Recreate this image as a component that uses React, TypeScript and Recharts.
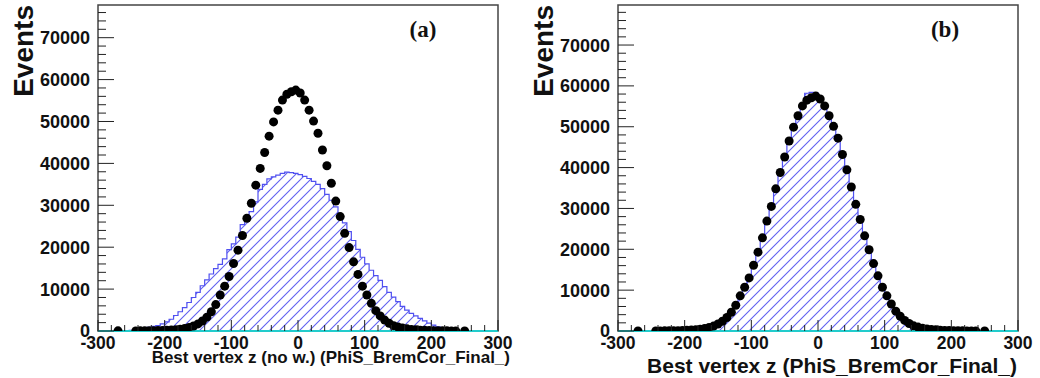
import {
  ComposedChart,
  Area,
  Line,
  XAxis,
  YAxis,
  ReferenceLine,
  ReferenceArea,
} from "recharts";

// binning of "Best vertex z"
const X_LO = -300;
const X_HI = 300;
const N_BINS = 90;
const X_MAJOR = [-300, -200, -100, 0, 100, 200, 300];
const Y_MAJOR = [0, 10000, 20000, 30000, 40000, 50000, 60000, 70000];

// data points (black dots), same sample in both panels
const DATA_POINTS = [
  null, null, null, null, 30, null, null, null,
  20, 30, 40, 50, 70, 90, 120, 160, 220, 300, 430, 600, 850, 1200, 1700, 2400, 3300, 4600,
  6300, 8600, 10700, 13000, 16100, 19300, 22800, 26900, 30500, 34800, 38800, 42600, 46500,
  49900, 52700, 55100, 56500, 57100, 57500, 56800, 55100, 52700, 50100, 47200, 43200, 39450,
  35250, 31000, 27300, 23300, 19900, 16500, 13500, 10700, 8600, 6600, 4850, 3600, 2600, 1840,
  1270, 950, 700, 520, 380, 280, 200, 150, 110, 80, 60, 40, 30, 20, 20,
  null, 10, null, null, null, null, null, null, null,
];

// (a) simulation without weights
const HIST_A = [
  0, 0, 0, 0, 0, 0, 50, 150,
  300, 500, 700, 900, 1100, 1300, 1700, 2200, 2800, 3700, 4600, 5600, 6800, 8000, 9200, 10800,
  12200, 13600, 14900, 15900, 17200, 19400, 20800, 22400, 25400, 27000, 28500, 30800, 33800,
  35000, 36300, 36800, 37200, 37600, 37900, 37800, 37600, 37300, 36900, 36400, 35700, 35000,
  34000, 32600, 31200, 29600, 27600, 25800, 23700, 21600, 19500, 17600, 16000, 14500, 13200,
  12100, 10600, 9200, 8100, 7000, 5900, 5000, 4200, 3600, 3000, 2400, 1900, 1400, 1000, 650,
  400, 200, 80, 30,
  0, 0, 0, 0, 0, 0, 0, 0,
];

// (b) simulation after reweighting
const HIST_B = [
  0, 0, 0, 0, 30, 0, 0, 0,
  20, 30, 40, 60, 70, 100, 130, 170, 230, 320, 450, 620, 880, 1250, 1750, 2450, 3400, 4700,
  6400, 8500, 10900, 13300, 16300, 19600, 23100, 27100, 30900, 35200, 39300, 43200, 47000,
  50400, 53100, 55600, 58200, 58400, 58300, 57000, 55400, 53000, 50500, 47500, 43700, 39800,
  35600, 31300, 27500, 23500, 20100, 16600, 13600, 10800, 8700, 6700, 4900, 3650, 2650, 1870,
  1300, 970, 720, 530, 390, 290, 210, 150, 110, 80, 60, 40, 30, 20, 20,
  0, 10, 0, 0, 0, 0, 0, 0, 0,
];

const SANS = "'Liberation Sans', Arial, sans-serif";
const SERIF = "'Liberation Serif', 'Times New Roman', serif";
const HATCH = "rgb(96, 96, 240)";

function binCenters() {
  const w = (X_HI - X_LO) / N_BINS;
  return Array.from({ length: N_BINS }, (_, i) => X_LO + (i + 0.5) * w);
}

function withMinors(majors: number[], step: number, max: number) {
  const out: number[] = [];
  for (let v = majors[0]; v <= max + 1e-6; v += step) out.push(Math.round(v));
  return out;
}

// hatch fill lives in its own svg so the chart does not touch it
function HatchDefs() {
  return (
    <svg width={0} height={0} style={{ position: "absolute" }}>
      <defs>
        <pattern id="hatch" patternUnits="userSpaceOnUse" width="10" height="10">
          <path d="M0,10 L10,0 M-1,1 L1,-1 M9,11 L11,9" stroke={HATCH} strokeWidth={1.1} fill="none" />
        </pattern>
      </defs>
    </svg>
  );
}

function YTick(props: any) {
  const { x, y, payload } = props;
  const v = payload.value;
  const major = v % 10000 === 0;
  const ax = x + 8;
  return (
    <g>
      <line x1={ax} x2={ax + (major ? 16 : 8)} y1={y} y2={y} stroke="#222" strokeWidth={1} />
      {major && (
        <text x={x} y={y} dy="0.36em" textAnchor="end" fontFamily={SANS} fontWeight="bold" fontSize={18} fill="#111">
          {v}
        </text>
      )}
    </g>
  );
}

function XTick(props: any) {
  const { x, y, payload } = props;
  const v = payload.value;
  const major = v % 100 === 0;
  const ay = y - 6;
  return (
    <g>
      <line x1={x} x2={x} y1={ay} y2={ay - (major ? 11 : 6)} stroke="#222" strokeWidth={1} />
      {major && (
        <text x={x} y={y} dy="0.71em" textAnchor="middle" fontFamily={SANS} fontWeight="bold" fontSize={17.5} fill="#111">
          {v}
        </text>
      )}
    </g>
  );
}

function Panel({
  hist,
  yMax,
  tag,
  tagX,
  xTitle,
  xTitleSize,
  xTitleRight,
  xTitleBase,
}: {
  hist: number[];
  yMax: number;
  tag: string;
  tagX: number;
  xTitle: string;
  xTitleSize: number;
  xTitleRight: number;
  xTitleBase: number;
}) {
  const centers = binCenters();
  const data = centers.map((x, i) => ({ x, h: hist[i], p: DATA_POINTS[i] }));
  const xTicks = withMinors(X_MAJOR, 20, X_HI);
  const yTicks = withMinors(Y_MAJOR, 2000, yMax);

  return (
    <div style={{ position: "relative", width: 520, height: 378 }}>
      <ComposedChart width={520} height={378} data={data} margin={{ top: 5, right: 22, left: 0, bottom: 0 }}>
        <XAxis
          type="number"
          dataKey="x"
          domain={[X_LO, X_HI]}
          ticks={xTicks}
          interval={0}
          allowDataOverflow
          axisLine={false}
          tickLine={false}
          tickSize={0}
          tickMargin={6}
          height={47}
          tick={(p: any) => <XTick {...p} />}
        />
        <YAxis
          type="number"
          domain={[0, yMax]}
          ticks={yTicks}
          interval={0}
          allowDataOverflow
          axisLine={false}
          tickLine={false}
          tickSize={0}
          tickMargin={8}
          width={98}
          tick={(p: any) => <YTick {...p} />}
        />
        <Area
          type="step"
          dataKey="h"
          stroke="rgb(80, 80, 240)"
          strokeWidth={1.2}
          fill="url(#hatch)"
          fillOpacity={1}
          isAnimationActive={false}
        />
        <ReferenceArea x1={X_LO} x2={X_HI} y1={0} y2={yMax} fill="none" stroke="#444" strokeWidth={1.5} />
        <ReferenceLine y={0} stroke="rgb(34, 204, 204)" strokeWidth={2} />
        <Line
          type="linear"
          dataKey="p"
          stroke="none"
          dot={{ r: 4.5, fill: "#000", stroke: "none" }}
          activeDot={false}
          isAnimationActive={false}
        />
      </ComposedChart>
      <svg width={520} height={378} style={{ position: "absolute", left: 0, top: 0, pointerEvents: "none" }}>
        <text
          x={33}
          y={5}
          transform="rotate(-90 33 5)"
          textAnchor="end"
          fontFamily={SANS}
          fontWeight="bold"
          fontSize={28}
          fill="#111"
        >
          Events
        </text>
        <text x={tagX} y={37} textAnchor="middle" fontFamily={SERIF} fontWeight="bold" fontSize={23} fill="#111">
          {tag}
        </text>
        <text
          x={xTitleRight}
          y={xTitleBase}
          textAnchor="end"
          fontFamily={SANS}
          fontWeight="bold"
          fontSize={xTitleSize}
          fill="#111"
        >
          {xTitle}
        </text>
      </svg>
    </div>
  );
}

export default function App() {
  return (
    <div style={{ position: "absolute", left: 0, top: 0, width: 1040, height: 378, background: "#fff", display: "flex" }}>
      <HatchDefs />
      <Panel
        hist={HIST_A}
        yMax={77800}
        tag="(a)"
        tagX={423}
        xTitle="Best vertex z (no w.) (PhiS_BremCor_Final_)"
        xTitleSize={17}
        xTitleRight={510}
        xTitleBase={363}
      />
      <Panel
        hist={HIST_B}
        yMax={79800}
        tag="(b)"
        tagX={425}
        xTitle="Best vertex z (PhiS_BremCor_Final_)"
        xTitleSize={21}
        xTitleRight={497}
        xTitleBase={373}
      />
    </div>
  );
}
